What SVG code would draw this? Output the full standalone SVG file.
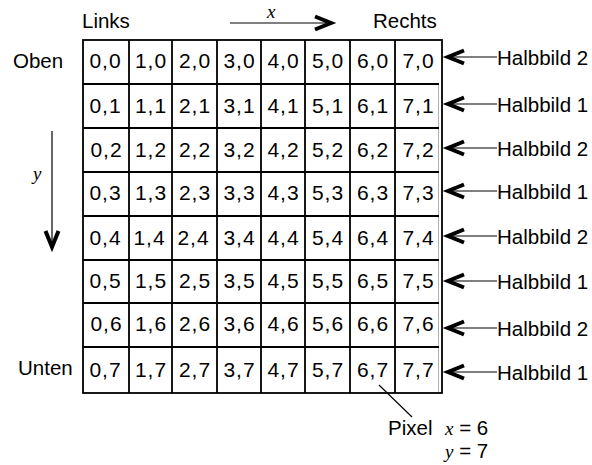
<svg xmlns="http://www.w3.org/2000/svg" width="592" height="465" viewBox="0 0 592 465">
<style>
.t{font-family:"Liberation Sans",Arial,sans-serif;font-size:20.5px;fill:#000}
.c{font-family:"Liberation Sans",Arial,sans-serif;font-size:21px;letter-spacing:1px;fill:#000;text-anchor:middle}
.i{font-family:"Liberation Serif","Times New Roman",serif;font-style:italic;font-size:19px;fill:#000}
.g{stroke:#000;stroke-width:1.8;fill:none}
.ln{stroke:#000;stroke-width:1.2;fill:none}
.hd{stroke:#000;stroke-width:4;fill:none;stroke-linejoin:miter;stroke-linecap:butt}
</style>
<rect width="592" height="465" fill="#fff"/>
<g id="grid">
<rect class="g" x="83" y="40" width="359" height="353"/>
<line x1="438.5" y1="84" x2="438.5" y2="392" stroke="#999" stroke-width="0.8"/>
<path class="g" d="M129 40V393M172 40V393M217 40V393M261 40V393M305 40V393M350 40V393M395 40V393M83 84H439M83 128H439M83 172H439M83 216H439M83 260H439M83 303H439M83 347H439"/>
</g>
<g id="axis-labels">
<text class="t" x="82" y="28">Links</text>
<text class="t" x="373" y="28">Rechts</text>
<text class="t" x="13" y="68">Oben</text>
<text class="t" x="18" y="375">Unten</text>
<text class="i" x="267" y="18">x</text>
<text class="i" x="33" y="180">y</text>
</g>
<g id="connectors">
<line class="ln" x1="230" y1="23" x2="330" y2="23"/>
<polyline class="hd" points="315,16.5 331,23 315,29.5"/>
<line class="ln" x1="52" y1="131" x2="52" y2="244"/>
<polyline class="hd" points="45.5,231 52,247 58.5,231"/>
<line class="ln" x1="379" y1="385" x2="412" y2="417"/>
<g id="arrows">
<line class="ln" x1="452" y1="57" x2="497" y2="57"/><polyline class="hd" points="464,50.5 448,57 464,63.5"/>
<line class="ln" x1="452" y1="104" x2="497" y2="104"/><polyline class="hd" points="464,97.5 448,104 464,110.5"/>
<line class="ln" x1="452" y1="148" x2="497" y2="148"/><polyline class="hd" points="464,141.5 448,148 464,154.5"/>
<line class="ln" x1="452" y1="191" x2="497" y2="191"/><polyline class="hd" points="464,184.5 448,191 464,197.5"/>
<line class="ln" x1="452" y1="236" x2="497" y2="236"/><polyline class="hd" points="464,229.5 448,236 464,242.5"/>
<line class="ln" x1="452" y1="281" x2="497" y2="281"/><polyline class="hd" points="464,274.5 448,281 464,287.5"/>
<line class="ln" x1="452" y1="328" x2="497" y2="328"/><polyline class="hd" points="464,321.5 448,328 464,334.5"/>
<line class="ln" x1="452" y1="372" x2="497" y2="372"/><polyline class="hd" points="464,365.5 448,372 464,378.5"/>
</g>
</g>
<g id="halbbild">
<g id="hb0"><text class="t" x="497" y="65">Halbbild 2</text></g>
<g id="hb1"><text class="t" x="497" y="112">Halbbild 1</text></g>
<g id="hb2"><text class="t" x="497" y="156">Halbbild 2</text></g>
<g id="hb3"><text class="t" x="497" y="199">Halbbild 1</text></g>
<g id="hb4"><text class="t" x="497" y="244">Halbbild 2</text></g>
<g id="hb5"><text class="t" x="497" y="289">Halbbild 1</text></g>
<g id="hb6"><text class="t" x="497" y="336">Halbbild 2</text></g>
<g id="hb7"><text class="t" x="497" y="380">Halbbild 1</text></g>
</g>
<g id="pixel-label">
<text class="t" x="388" y="435">Pixel</text>
<text x="445" y="435"><tspan class="i" font-size="19">x</tspan><tspan class="t"> = 6</tspan></text>
<text x="445" y="458"><tspan class="i" font-size="19">y</tspan><tspan class="t"> = 7</tspan></text>
</g>
<g id="cells">
<g id="r0"><text class="c" x="105.5" y="68">0,0</text><text class="c" x="151" y="68">1,0</text><text class="c" x="195" y="68">2,0</text><text class="c" x="239.5" y="68">3,0</text><text class="c" x="283.5" y="68">4,0</text><text class="c" x="328" y="68">5,0</text><text class="c" x="373" y="68">6,0</text><text class="c" x="418.5" y="68">7,0</text></g>
<g id="r1"><text class="c" x="105.5" y="113">0,1</text><text class="c" x="151" y="113">1,1</text><text class="c" x="195" y="113">2,1</text><text class="c" x="239.5" y="113">3,1</text><text class="c" x="283.5" y="113">4,1</text><text class="c" x="328" y="113">5,1</text><text class="c" x="373" y="113">6,1</text><text class="c" x="418.5" y="113">7,1</text></g>
<g id="r2"><text class="c" x="106.5" y="157">0,2</text><text class="c" x="151" y="157">1,2</text><text class="c" x="195" y="157">2,2</text><text class="c" x="239.5" y="157">3,2</text><text class="c" x="283.5" y="157">4,2</text><text class="c" x="328" y="157">5,2</text><text class="c" x="373" y="157">6,2</text><text class="c" x="418.5" y="157">7,2</text></g>
<g id="r3"><text class="c" x="105.5" y="200">0,3</text><text class="c" x="151" y="200">1,3</text><text class="c" x="195" y="200">2,3</text><text class="c" x="239.5" y="200">3,3</text><text class="c" x="283.5" y="200">4,3</text><text class="c" x="328" y="200">5,3</text><text class="c" x="373" y="200">6,3</text><text class="c" x="418.5" y="200">7,3</text></g>
<g id="r4"><text class="c" x="105.5" y="245">0,4</text><text class="c" x="149.5" y="245">1,4</text><text class="c" x="193.5" y="245">2,4</text><text class="c" x="239.5" y="245">3,4</text><text class="c" x="283.5" y="245">4,4</text><text class="c" x="328" y="245">5,4</text><text class="c" x="373" y="245">6,4</text><text class="c" x="418.5" y="245">7,4</text></g>
<g id="r5"><text class="c" x="105.5" y="288">0,5</text><text class="c" x="151" y="288">1,5</text><text class="c" x="195" y="288">2,5</text><text class="c" x="239.5" y="288">3,5</text><text class="c" x="283.5" y="288">4,5</text><text class="c" x="328" y="288">5,5</text><text class="c" x="373" y="288">6,5</text><text class="c" x="418.5" y="288">7,5</text></g>
<g id="r6"><text class="c" x="106.5" y="331">0,6</text><text class="c" x="151" y="331">1,6</text><text class="c" x="195" y="331">2,6</text><text class="c" x="239.5" y="331">3,6</text><text class="c" x="283.5" y="331">4,6</text><text class="c" x="328" y="331">5,6</text><text class="c" x="373" y="331">6,6</text><text class="c" x="418.5" y="331">7,6</text></g>
<g id="r7"><text class="c" x="105.5" y="377">0,7</text><text class="c" x="151" y="377">1,7</text><text class="c" x="195" y="377">2,7</text><text class="c" x="239.5" y="377">3,7</text><text class="c" x="283.5" y="377">4,7</text><text class="c" x="328" y="377">5,7</text><text class="c" x="373" y="377">6,7</text><text class="c" x="418.5" y="377">7,7</text></g>
</g>
</svg>
